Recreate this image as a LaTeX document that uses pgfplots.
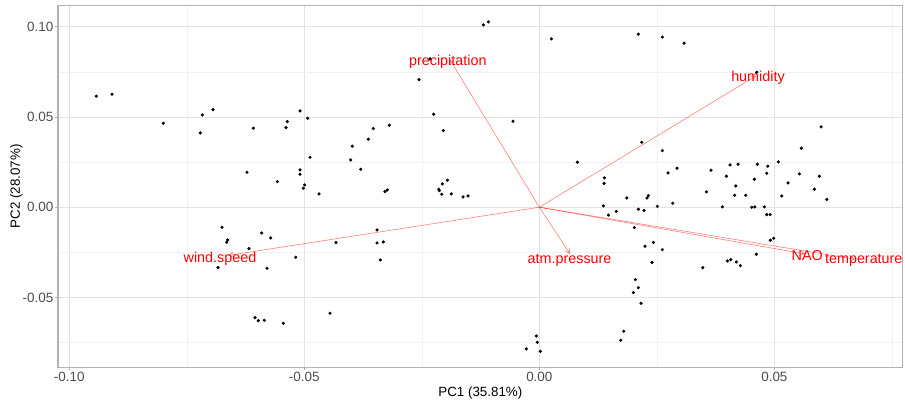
\documentclass[border=0pt]{standalone}
\usepackage{pgfplots}
\pgfplotsset{compat=1.18}
\usepackage{fontspec}
\setmainfont{Liberation Sans}
\usetikzlibrary{arrows.meta}

\definecolor{panelborder}{HTML}{B3B3B3}
\definecolor{gridmajor}{HTML}{E3E3E3}
\definecolor{gridminor}{HTML}{F1F1F1}
\definecolor{ticktext}{HTML}{4D4D4D}
\definecolor{loading}{HTML}{FF0000}

% PCA scores (PC1, PC2)
\pgfplotstableread{
x y
-0.09426 0.06153
-0.09091 0.06264
-0.08000 0.04656
-0.07213 0.04119
-0.07170 0.05116
-0.06943 0.05410
-0.06219 0.01940
-0.06085 0.04379
-0.05574 0.01419
-0.05389 0.04412
-0.05362 0.04745
-0.05091 0.05338
-0.05091 0.02068
-0.05091 0.01829
-0.01191 0.10105
-0.01085 0.10272
0.00255 0.09329
-0.02560 0.07073
-0.02326 0.08221
-0.04928 0.04933
-0.02247 0.05155
-0.02043 0.04246
-0.00560 0.04767
-0.03532 0.04357
-0.03191 0.04545
-0.03638 0.03769
-0.03979 0.03381
-0.04879 0.02772
-0.04013 0.02622
-0.03800 0.02106
0.00809 0.02494
-0.04991 0.01236
-0.05021 0.01053
-0.04687 0.00737
-0.03283 0.00865
-0.03234 0.00959
-0.02140 0.00998
-0.02128 0.00920
-0.02064 0.01292
-0.01957 0.01497
-0.02077 0.00721
-0.01872 0.00737
-0.01623 0.00571
-0.01517 0.00626
0.02106 0.09590
0.02617 0.09424
0.03079 0.09091
0.04626 0.07483
0.05994 0.04451
0.05574 0.03270
0.02179 0.03603
0.02617 0.03137
0.05085 0.02511
0.01383 0.01624
0.01377 0.01319
0.02738 0.01901
0.02930 0.02162
0.03653 0.02051
0.04057 0.02345
0.04228 0.02384
0.04638 0.02384
0.04860 0.02273
0.04838 0.01885
0.03979 0.01718
0.05532 0.01846
0.05957 0.01718
0.04179 0.01181
0.04574 0.01552
0.05291 0.01347
0.05851 0.00998
0.03553 0.00848
0.01860 0.00516
0.02291 0.00516
0.02319 0.00643
0.04157 0.00665
0.04391 0.00665
0.05157 0.00626
0.06115 0.00432
-0.06751 -0.01109
-0.06630 -0.01813
-0.06651 -0.01940
-0.05906 -0.01425
-0.05715 -0.01702
-0.06177 -0.02295
-0.06836 -0.03348
-0.05794 -0.03381
-0.05183 -0.02772
-0.06049 -0.06120
-0.05979 -0.06286
-0.05851 -0.06264
-0.05447 -0.06430
-0.03453 -0.01258
-0.04326 -0.01962
-0.03453 -0.01979
-0.03319 -0.01924
-0.03383 -0.02921
-0.04453 -0.05876
-0.00064 -0.07134
-0.00043 -0.07483
-0.00277 -0.07855
0.00021 -0.07982
0.01362 0.00072
0.01638 -0.00233
0.01468 -0.00438
0.02106 -0.00111
0.02228 -0.00177
0.02511 0.00044
0.02838 0.00222
0.03894 0.00017
0.04519 0.00000
0.04583 0.00017
0.04787 0.00017
0.04838 -0.00410
0.04909 -0.00410
0.02021 -0.01131
0.02249 -0.02162
0.02426 -0.01951
0.02617 -0.02350
0.02398 -0.03060
0.04915 -0.01829
0.04987 -0.01718
0.04617 -0.02605
0.03477 -0.03348
0.04000 -0.02977
0.04072 -0.02905
0.04191 -0.03032
0.04277 -0.03237
0.02043 -0.04013
0.02106 -0.04457
0.02000 -0.04734
0.02164 -0.05322
0.01796 -0.06874
0.01732 -0.07373
}\scores

\tikzset{
  loadline/.style={draw=loading, draw opacity=0.5, line width=0.6bp,
    -{Straight Barb[length=4.5bp,width=5bp]}},
  loadtext/.style={text=loading, font=\fontsize{14.4}{16}\selectfont,
    inner sep=0pt, anchor=base},
}

\begin{document}
\begin{tikzpicture}
\path[use as bounding box] (-58bp,-34.7bp) rectangle (847bp,367.3bp);
\begin{axis}[
  at={(0,0)}, anchor=south west,
  scale only axis,
  width=844.7bp, height=362bp,
  xmin=-0.1024, xmax=0.0773,
  ymin=-0.0887, ymax=0.1119,
  xtick={-0.10,-0.05,0,0.05},
  xticklabels={-0.10,-0.05,0.00,0.05},
  ytick={-0.05,0,0.05,0.10},
  yticklabels={-0.05,0.00,0.05,0.10},
  minor xtick={-0.075,-0.025,0.025,0.075},
  minor ytick={-0.075,-0.025,0.025,0.075},
  grid=both,
  major grid style={draw=gridmajor, line width=0.7bp},
  minor grid style={draw=gridminor, line width=0.5bp},
  minor tick length=0pt,
  major tick length=3bp,
  tick align=outside,
  tick pos=left,
  tick style={draw=panelborder, line width=0.7bp},
  axis line style={draw=panelborder, line width=1.1bp},
  ticklabel style={font=\fontsize{13.5}{15}\selectfont, text=ticktext},
  xticklabel style={inner sep=1.5bp},
  yticklabel style={inner sep=1.5bp},
  xlabel={PC1 (35.81\%)},
  ylabel={PC2 (28.07\%)},
  label style={font=\fontsize{13.4}{15}\selectfont, text=black},
  xlabel style={at={([yshift=-29.4bp]axis description cs:0.5,0)}, anchor=base, inner sep=0pt},
  ylabel style={at={([xshift=-38bp]axis description cs:0,0.5)}, anchor=base, rotate=0, inner sep=0pt},
  clip=false,
]
\addplot[only marks, mark=*, mark size=1.4bp, draw=black, fill=black] table[x=x, y=y] {\scores};

% variable loadings
\addplot[loadline] coordinates {(0,0) (-0.01900,0.08165)};
\addplot[loadline] coordinates {(0,0) (0.04611,0.07279)};
\addplot[loadline] coordinates {(0,0) (-0.06623,-0.02672)};
\addplot[loadline] coordinates {(0,0) (0.00653,-0.02589)};
\addplot[loadline] coordinates {(0,0) (0.05653,-0.02589)};
\addplot[loadline] coordinates {(0,0) (0.06717,-0.02882)};

\node[loadtext] at (axis cs:-0.01947,0.07833) {precipitation};
\node[loadtext] at (axis cs:0.04651,0.06962) {humidity};
\node[loadtext] at (axis cs:-0.06794,-0.03049) {wind.speed};
\node[loadtext] at (axis cs:0.00643,-0.03143) {atm.pressure};
\node[loadtext] at (axis cs:0.05700,-0.02960) {NAO};
\node[loadtext] at (axis cs:0.06902,-0.03143) {temperature};
\end{axis}
\end{tikzpicture}
\end{document}
